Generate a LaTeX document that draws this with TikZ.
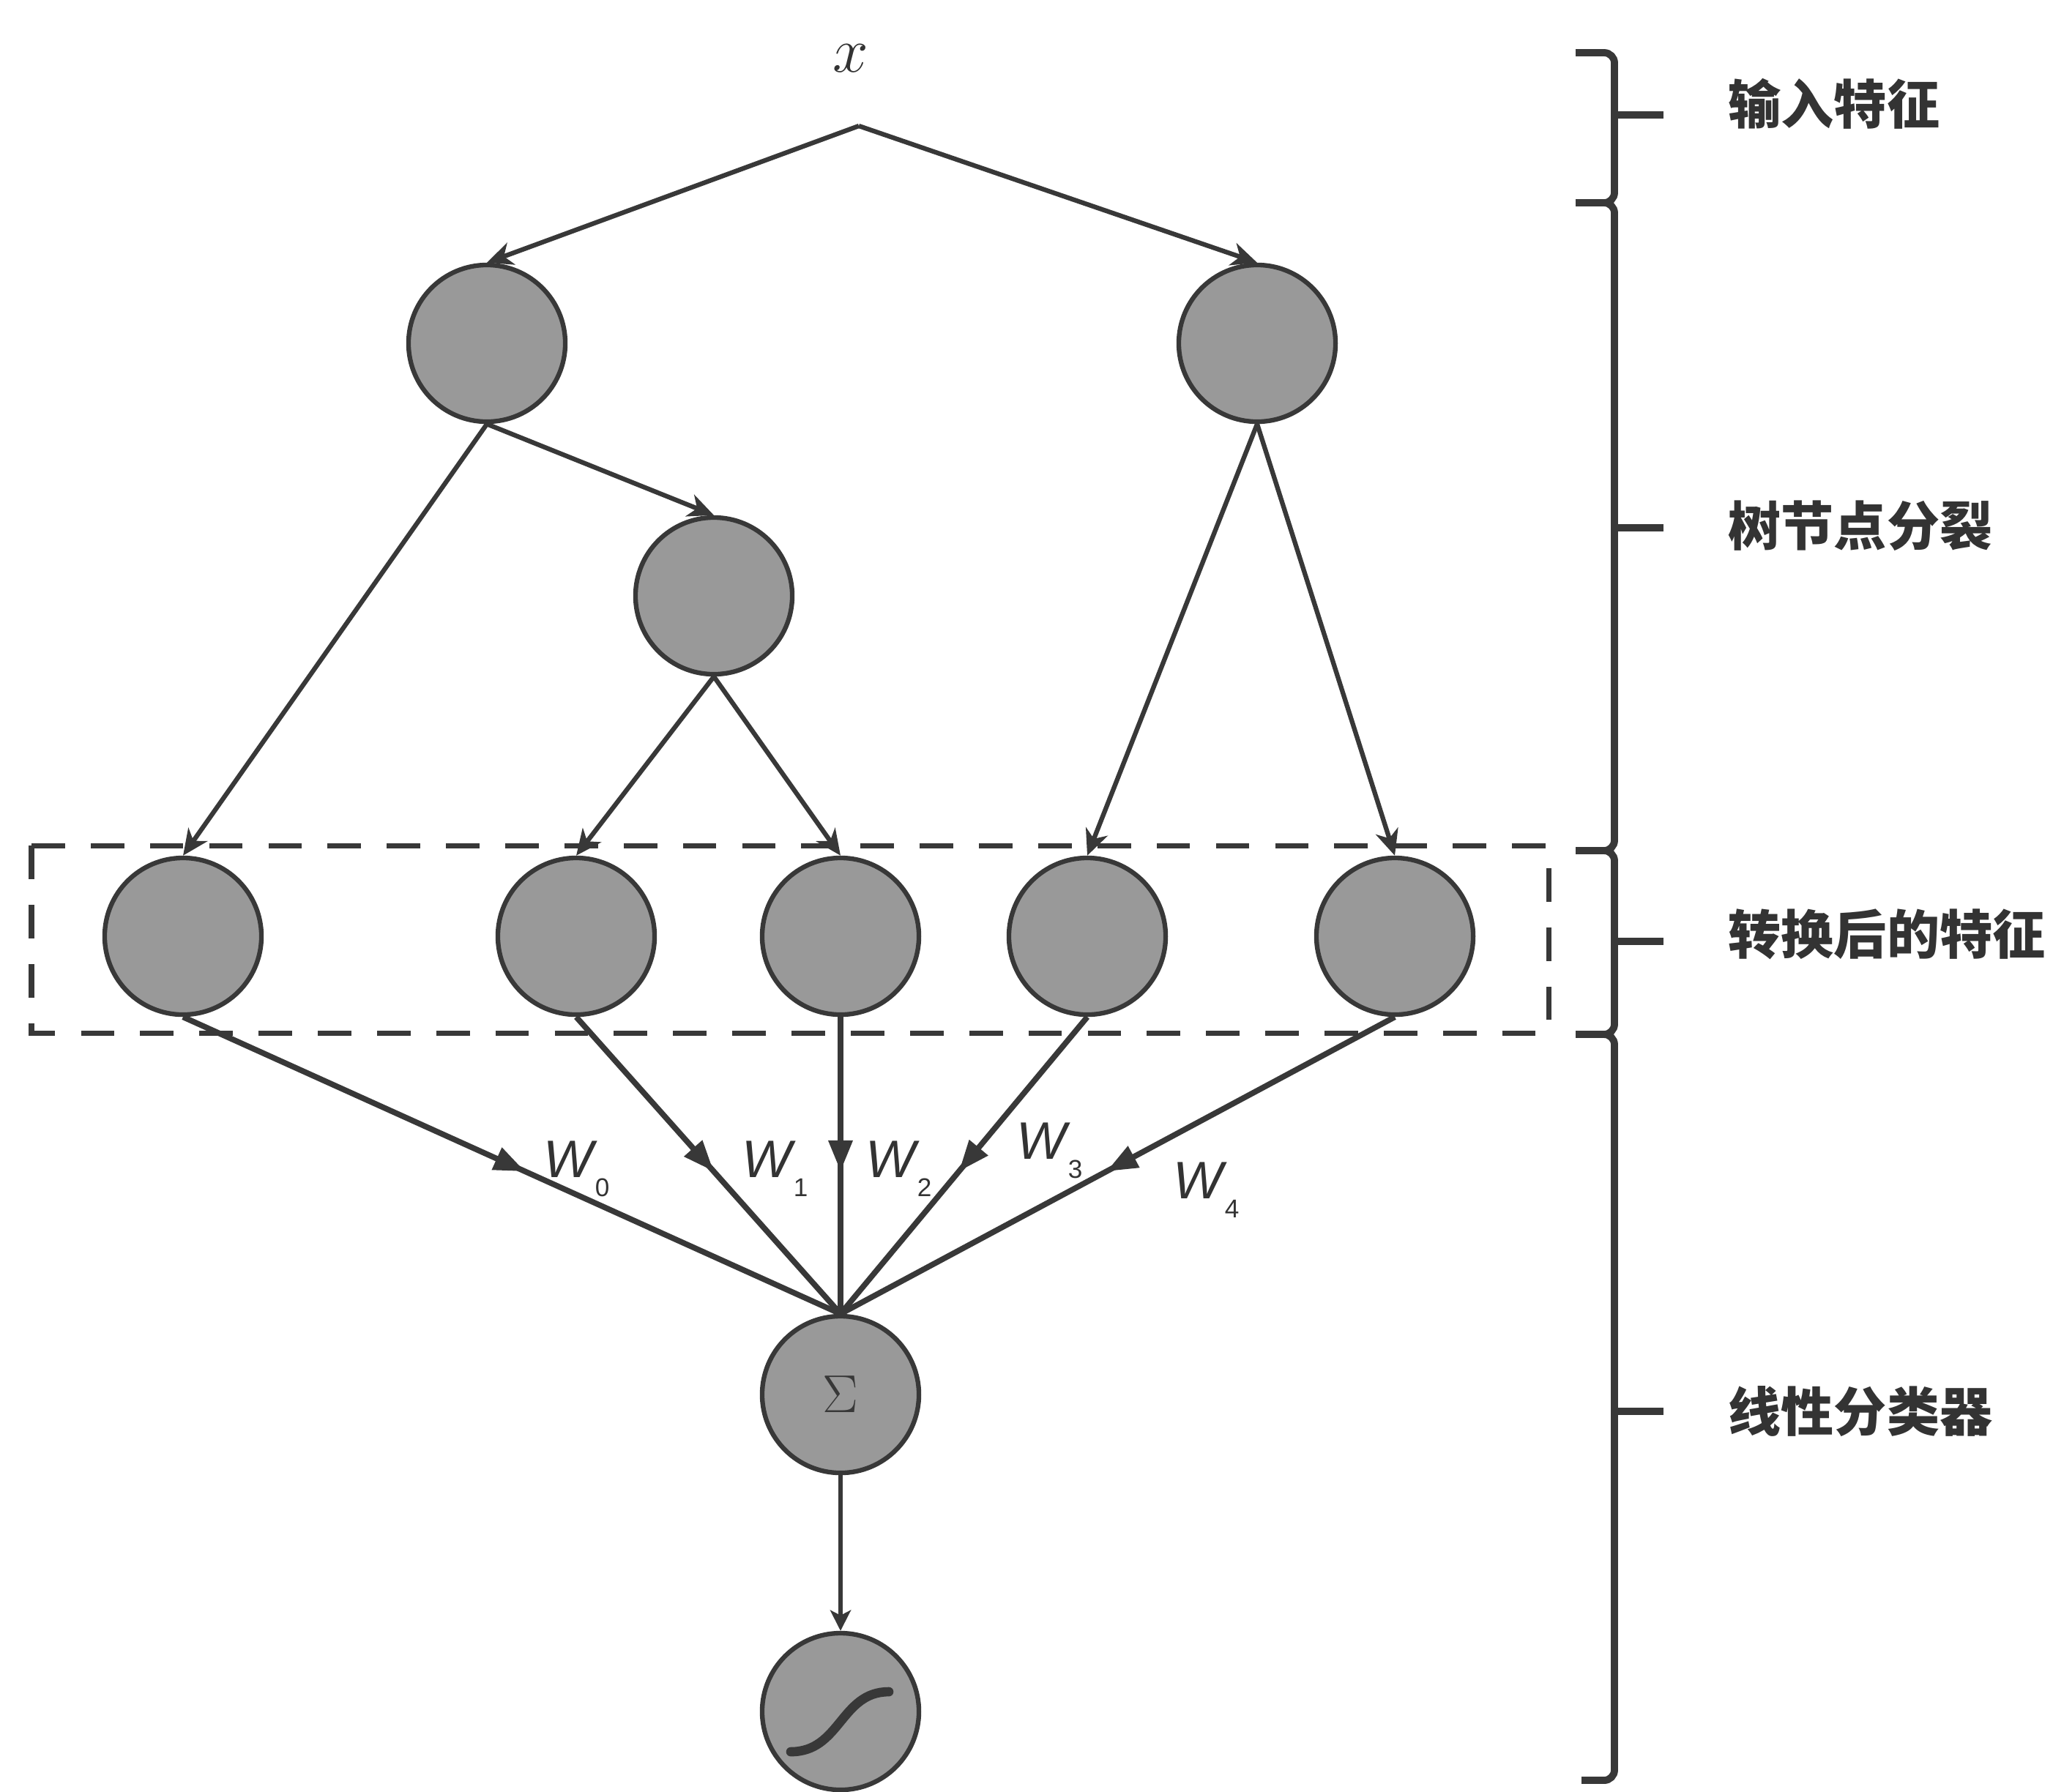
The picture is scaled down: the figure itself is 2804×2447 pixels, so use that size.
\documentclass[tikz,border=0pt]{standalone}
\usepackage{fontspec}
\newfontfamily\cjkfont{Noto Sans CJK SC}
\newfontfamily\wfont{Liberation Sans}
\usetikzlibrary{arrows.meta,decorations.markings}
\definecolor{ink}{HTML}{383838}
\definecolor{nodefill}{HTML}{999999}
\definecolor{txt}{HTML}{333333}
% weight label: italic W with a lowered index
\newcommand\wlab[1]{\textit{W}\kern-1pt\raisebox{-7.4pt}{\fontsize{10}{10}\selectfont #1}}

\begin{document}
\begin{tikzpicture}[x=0.01cm,y=-0.01cm,
  unit/.style={circle,draw=ink,fill=nodefill,line width=1.8pt,minimum size=2.14cm,inner sep=0pt},
  split/.style={draw=ink,line width=1.8pt,-{Stealth[length=10pt,width=9pt,inset=3pt]}},
  weight/.style={draw=ink,line width=2.2pt,postaction={decorate},
    decoration={markings,mark=at position 0.52 with {\arrow{Triangle[length=12pt,width=9pt]}}}},
  wlabel/.style={inner sep=0pt,text=txt,font=\wfont\fontsize{20.5}{22}\selectfont},
  stage/.style={inner sep=0pt,anchor=west,text=txt,font=\cjkfont\bfseries\fontsize{20.5}{22}\selectfont},
  brace/.style={draw=ink,line width=2.8pt,rounded corners=4pt},
]
\useasboundingbox (0,0) rectangle (2804,2447);

% input
\node[text=txt,font=\fontsize{27}{30}\selectfont] (xin) at (1162,80) {$x$};
\coordinate (root) at (1173,172);

% trees
\node[unit] (tl)  at (665,469) {};
\node[unit] (tr)  at (1717,469) {};
\node[unit] (mid) at (975,814) {};

% transformed features
\node[unit] (b0) at (250,1279) {};
\node[unit] (b1) at (787,1279) {};
\node[unit] (b2) at (1148,1279) {};
\node[unit] (b3) at (1485,1279) {};
\node[unit] (b4) at (1905,1279) {};

% linear classifier
\node[unit,text=ink,font=\fontsize{21}{22}\selectfont] (sum) at (1148,1905) {$\Sigma$};
\node[unit] (sig) at (1148,2338) {};
\begin{scope}[shift={(sig)}]
  \draw[ink,line width=3.6pt,line cap=round] (-68,55) .. controls (0,55) and (0,-27) .. (66,-27);
\end{scope}

% splits
\draw[split] (root) -- (tl.north);
\draw[split] (root) -- (tr.north);
\draw[split] (tl.south) -- (mid.north);
\draw[split] (tl.south) -- (b0.north);
\draw[split] (mid.south) -- (b1.north);
\draw[split] (mid.south) -- (b2.north);
\draw[split] (tr.south) -- (b3.north);
\draw[split] (tr.south) -- (b4.north);

% weighted connections
\draw[weight] (b0.south) -- (sum.north);
\draw[weight] (b1.south) -- (sum.north);
\draw[weight] (b2.south) -- (sum.north);
\draw[weight] (b3.south) -- (sum.north);
\draw[weight] (b4.south) -- (sum.north);
\draw[split,-{Stealth[length=8pt,width=8pt,inset=2pt]}] (sum.south) -- (sig.north);

% weight labels
\node[wlabel,anchor=base west] (w0) at (742,1608) {\wlab{0}};
\node[wlabel,anchor=base west] (w1) at (1013,1608) {\wlab{1}};
\node[wlabel,anchor=base west] (w2) at (1182,1608) {\wlab{2}};
\node[wlabel,anchor=base west] (w3) at (1388,1583) {\wlab{3}};
\node[wlabel,anchor=base west] (w4) at (1602,1637) {\wlab{4}};

% dashed frame around the transformed features
\draw[ink,line width=2pt,dash pattern=on 13pt off 10pt] (43,1155) rectangle (2115,1411);

% stage braces
\draw[brace] (2152,72) -- (2205,72) -- (2205,277) -- (2152,277);
\draw[brace] (2152,277) -- (2205,277) -- (2205,1162) -- (2152,1162);
\draw[brace] (2152,1162) -- (2205,1162) -- (2205,1413) -- (2152,1413);
\draw[brace] (2152,1413) -- (2205,1413) -- (2205,2432) -- (2160,2432);
\draw[brace] (2205,157) -- (2272,157);
\draw[brace] (2205,721) -- (2272,721);
\draw[brace] (2205,1286) -- (2272,1286);
\draw[brace] (2205,1928) -- (2272,1928);

% stage labels
\node[stage] (s1) at (2360,142) {输入特征};
\node[stage] (s2) at (2360,718) {树节点分裂};
\node[stage] (s3) at (2360,1276) {转换后的特征};
\node[stage] (s4) at (2360,1928) {线性分类器};
\end{tikzpicture}
\end{document}
